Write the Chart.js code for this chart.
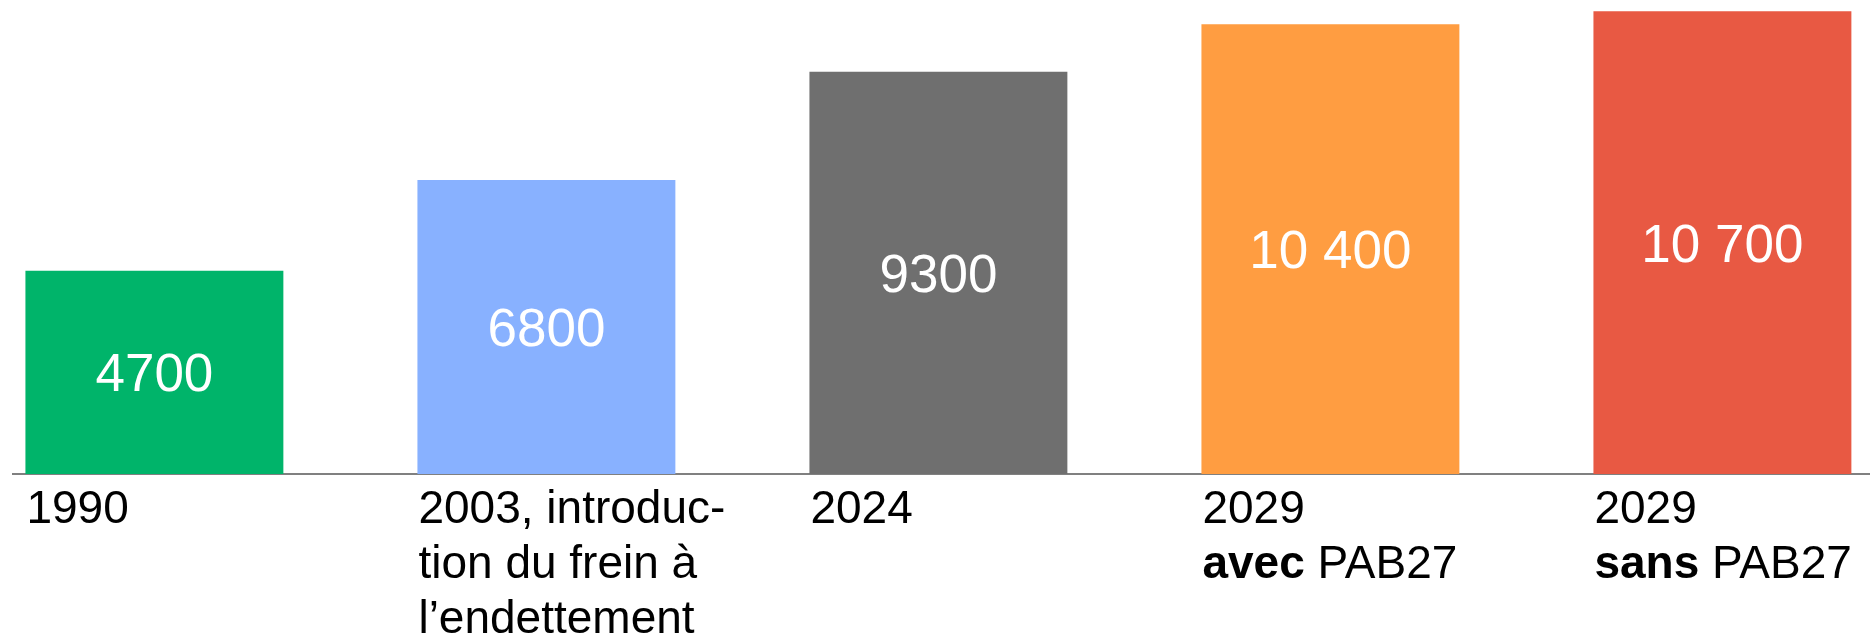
<!DOCTYPE html>
<html>
<head>
<meta charset="utf-8">
<script src="https://cdn.jsdelivr.net/npm/chart.js@4/dist/chart.umd.min.js"></script>
<style>
  html, body { margin: 0; padding: 0; background: #fff; }
  #wrap { width: 1870px; height: 636px; position: relative; }
</style>
</head>
<body>
<div id="wrap"><canvas id="debtChart"></canvas></div>
<script>
// Category captions, one entry per line; **...** marks a bold run
const categoryLines = [
    ['1990'],
    ['2003, introduc-', 'tion du frein à', 'l’endettement'],
    ['2024'],
    ['2029', '**avec** PAB27'],
    ['2029', '**sans** PAB27']
];
const debtValues = [4700, 6800, 9300, 10400, 10700];
const valueLabels = ['4700', '6800', '9300', '10 400', '10 700'];
const barColors = ['#00b46a', '#88b1ff', '#6f6f6f', '#ff9d41', '#e85943'];

const FONT = '"Liberation Sans", Arial, Helvetica, sans-serif';

// white value text centred inside each bar
const valueLabelPlugin = {
    id: 'valueLabels',
    afterDatasetsDraw(chart) {
        const ctx = chart.ctx;
        const meta = chart.getDatasetMeta(0);
        ctx.save();
        ctx.font = `53px ${FONT}`;
        ctx.fillStyle = '#ffffff';
        ctx.textAlign = 'center';
        ctx.textBaseline = 'alphabetic';
        meta.data.forEach((bar, i) => {
            const mid = (bar.y + bar.base) / 2;
            ctx.fillText(valueLabels[i], bar.x, mid + 19);
        });
        ctx.restore();
    }
};

// multi-line captions under the axis, left-aligned to the bar edge
const categoryLabelPlugin = {
    id: 'categoryLabels',
    afterDraw(chart) {
        const ctx = chart.ctx;
        const meta = chart.getDatasetMeta(0);
        const firstBaseline = chart.chartArea.bottom + 49;
        const lineHeight = 55;
        ctx.save();
        ctx.fillStyle = '#000000';
        ctx.textAlign = 'left';
        ctx.textBaseline = 'alphabetic';
        meta.data.forEach((bar, i) => {
            const left = bar.x - bar.width / 2 + 1;
            categoryLines[i].forEach((line, j) => {
                const y = firstBaseline + j * lineHeight;
                let x = left;
                line.split(/(\*\*[^*]+\*\*)/).filter(s => s).forEach(run => {
                    const bold = run.startsWith('**');
                    const text = bold ? run.slice(2, -2) : run;
                    ctx.font = `${bold ? 'bold ' : ''}46px ${FONT}`;
                    ctx.fillText(text, x, y);
                    x += ctx.measureText(text).width;
                });
            });
        });
        ctx.restore();
    }
};

const ctx = document.getElementById('debtChart').getContext('2d');
new Chart(ctx, {
    type: 'bar',
    data: {
        datasets: [{
            data: debtValues.map((v, i) => ({ x: i, y: v })),
            backgroundColor: barColors,
            borderWidth: 0,
            barPercentage: 0.658,
            categoryPercentage: 1
        }]
    },
    options: {
        responsive: true,
        maintainAspectRatio: false,
        animation: false,
        layout: { padding: { left: 13, right: 0, top: 0, bottom: 162 } },
        plugins: {
            legend: { display: false },
            tooltip: { enabled: false }
        },
        scales: {
            x: {
                type: 'linear',
                offset: false,
                min: -0.3607,
                max: 4.3765,
                z: 1,
                afterBuildTicks: axis => {
                    axis.ticks = debtValues.map((_, i) => ({ value: i }));
                },
                ticks: { display: false },
                grid: { display: false, drawTicks: false, offset: false },
                border: { display: true, color: '#808080', width: 2 }
            },
            y: {
                display: false,
                min: 0,
                max: 10960
            }
        }
    },
    plugins: [valueLabelPlugin, categoryLabelPlugin]
});
</script>
</body>
</html>
